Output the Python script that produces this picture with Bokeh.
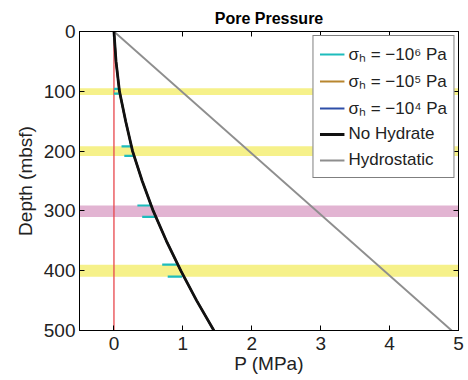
from bokeh.plotting import figure
from bokeh.models import (Range1d, LinearAxis, Legend, LegendItem,
                          FixedTicker, CustomJSTickFormatter)
from bokeh.embed import file_html
from bokeh.resources import INLINE

# ---- data ----
depth = [0, 50, 100, 150, 200, 250, 300, 350, 400, 450, 500]
p_no_hydrate = [0, 0.03, 0.08, 0.17, 0.27, 0.41, 0.57, 0.76, 0.97, 1.20, 1.45]
hydro_depth = [0, 500]
p_hydro = [0, 4.9]

# hydrate layers (top, bottom depth in mbsf)
yellow_top = [95, 192, 390]
yellow_bot = [106, 208, 410]
pink_top = [291]
pink_bot = [310]

# sigma_h = -1e6 Pa pressure offsets at layer boundaries
cyan_depth = [96, 104, 192, 208, 291, 310, 390, 410]
cyan_p0 = [0.0, 0.0, 0.11, 0.15, 0.34, 0.41, 0.70, 0.78]
cyan_p1 = [0.06, 0.07, 0.25, 0.30, 0.53, 0.60, 0.92, 0.99]

x_ticks = [0, 1, 2, 3, 4, 5]
y_ticks = [0, 100, 200, 300, 400, 500]

FONT = "Liberation Sans"

p = figure(width=468, height=380, output_backend="svg", toolbar_location=None,
           x_range=Range1d(-0.5, 5), y_range=Range1d(500, 0),
           title="Pore Pressure",
           min_border_left=79, min_border_right=10, min_border_top=31,
           min_border_bottom=50)
p.background_fill_color = "white"
p.border_fill_color = "white"
p.grid.visible = False
p.outline_line_color = "black"
p.outline_line_width = 1

p.title.text_font = FONT
p.title.text_font_style = "bold"
p.title.text_font_size = "16px"
p.title.text_color = "black"
p.title.align = "center"
p.title.vertical_align = "top"
p.title.standoff = 6
p.title.offset = 0

# bands
p.quad(left=-0.5, right=5, top=yellow_top, bottom=yellow_bot,
       fill_color="#F6F18A", line_color=None)
p.quad(left=-0.5, right=5, top=pink_top, bottom=pink_bot,
       fill_color="#E2B4D2", line_color=None)

# zero line
p.line([0, 0], [0, 500], line_color="#E8474C", line_width=1.3)

# hydrostatic
r_hyd = p.line(p_hydro, hydro_depth, line_color="#8e8e8e", line_width=1.9)

# sigma curves (coincide with no-hydrate outside layers)
r_blue = p.line(p_no_hydrate, depth, line_color="#2E4EA8", line_width=2)
r_brown = p.line(p_no_hydrate, depth, line_color="#B8862F", line_width=2)
xs = [[a, b] for a, b in zip(cyan_p0, cyan_p1)]
ys = [[d, d] for d in cyan_depth]
r_cyan = p.multi_line(xs, ys, line_color="#1DBCBC", line_width=2.2)

r_black = p.line(p_no_hydrate, depth, line_color="#111111", line_width=2.8)

# axes
for ax in [p.xaxis[0], p.yaxis[0]]:
    ax.major_tick_in = 5
    ax.major_tick_out = 0
    ax.minor_tick_in = 0
    ax.minor_tick_out = 0
    ax.axis_line_color = "black"
    ax.major_tick_line_color = "black"
    ax.major_label_text_font = FONT
    ax.major_label_text_font_size = "19px"
    ax.major_label_text_color = "#222222"
    ax.axis_label_text_font = FONT
    ax.axis_label_text_font_size = "19px"
    ax.axis_label_text_font_style = "normal"
    ax.axis_label_text_color = "#222222"

p.xaxis[0].ticker = FixedTicker(ticks=x_ticks)
p.yaxis[0].ticker = FixedTicker(ticks=y_ticks)
p.yaxis[0].axis_label = "Depth (mbsf)"
p.xaxis[0].axis_label = "P (MPa)"
p.xaxis[0].axis_label_standoff = 0
p.yaxis[0].major_label_standoff = 4
p.xaxis[0].major_label_standoff = 6

blank = CustomJSTickFormatter(code="return ''")
top_ax = LinearAxis(ticker=FixedTicker(ticks=x_ticks), formatter=blank,
                    major_tick_in=5, major_tick_out=0, minor_tick_in=0,
                    minor_tick_out=0, axis_line_color="black",
                    major_label_standoff=0)
right_ax = LinearAxis(ticker=FixedTicker(ticks=y_ticks), formatter=blank,
                      major_tick_in=5, major_tick_out=0, minor_tick_in=0,
                      minor_tick_out=0, axis_line_color="black")
p.add_layout(top_ax, "above")
p.add_layout(right_ax, "right")

legend = Legend(items=[
    LegendItem(label="σₕ = −10⁶ Pa", renderers=[r_cyan]),
    LegendItem(label="σₕ = −10⁵ Pa", renderers=[r_brown]),
    LegendItem(label="σₕ = −10⁴ Pa", renderers=[r_blue]),
    LegendItem(label="No Hydrate", renderers=[r_black]),
    LegendItem(label="Hydrostatic", renderers=[r_hyd]),
], location="top_right")
legend.label_text_font = FONT
legend.label_text_font_size = "17px"
legend.label_text_color = "#222222"
legend.label_height = 22
legend.glyph_height = 22
legend.glyph_width = 25
legend.label_standoff = 4
legend.spacing = 4
legend.padding = 6
legend.margin = 4
legend.border_line_color = "black"
legend.border_line_width = 1.2
legend.background_fill_alpha = 1
p.add_layout(legend)

open("out.html", "w").write(file_html(p, INLINE))
